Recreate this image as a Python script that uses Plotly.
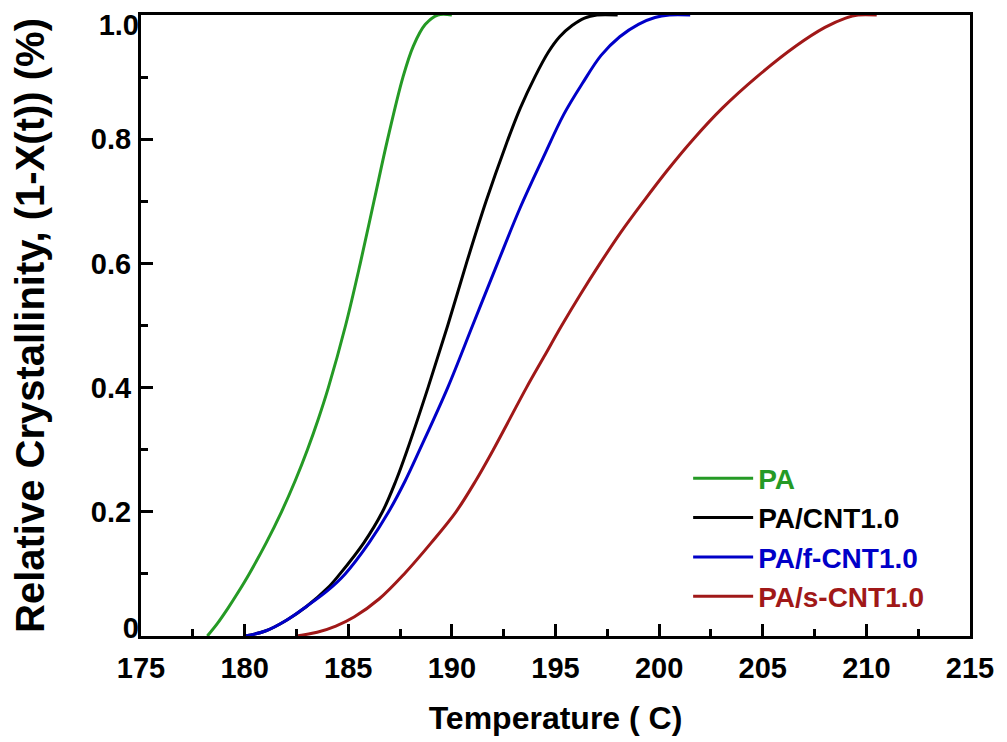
import plotly.graph_objects as go

# Temperature (C) and relative crystallinity values
pa_T = [178.2, 178.68, 179.2, 179.68, 180.22, 181.04, 181.78, 182.44, 183.03, 183.56, 184.04, 184.87, 185.58, 186.24, 186.9, 187.64, 188.14, 188.72, 189.32, 190.0]
pa_v = [0.0, 0.02, 0.045, 0.07, 0.10, 0.15, 0.20, 0.25, 0.30, 0.35, 0.40, 0.50, 0.60, 0.70, 0.80, 0.90, 0.95, 0.985, 1.0, 1.0]

cnt_T = [180.0, 181.0, 182.0, 183.0, 184.0, 184.6, 185.75, 186.65, 187.3, 187.85, 188.85, 189.8, 190.7, 191.65, 192.6, 193.3, 194.0, 194.65, 195.2, 195.8, 196.4, 197.0, 198.0]
cnt_v = [0.0, 0.008, 0.025, 0.048, 0.077, 0.10, 0.15, 0.20, 0.25, 0.30, 0.40, 0.50, 0.60, 0.70, 0.79, 0.85, 0.90, 0.94, 0.965, 0.983, 0.995, 1.0, 1.0]

fcnt_T = [180.0, 181.0, 182.0, 183.0, 184.0, 184.85, 186.0, 186.95, 187.75, 188.45, 189.8, 191.0, 192.2, 193.3, 194.4, 195.4, 196.3, 197.2, 198.1, 199.0, 199.8, 200.5, 201.5]
fcnt_v = [0.0, 0.008, 0.025, 0.048, 0.073, 0.10, 0.15, 0.20, 0.25, 0.30, 0.40, 0.50, 0.60, 0.69, 0.77, 0.84, 0.89, 0.935, 0.965, 0.985, 0.996, 1.0, 1.0]

scnt_T = [182.5, 183.5, 184.4, 185.3, 186.5, 187.7, 189.0, 190.2, 191.15, 192.0, 192.8, 193.6, 194.45, 195.3, 196.2, 197.15, 198.15, 199.25, 200.4, 201.65, 203.05, 204.7, 206.6, 208.0, 209.0, 209.6, 210.5]
scnt_v = [0.0, 0.006, 0.016, 0.031, 0.06, 0.10, 0.15, 0.20, 0.25, 0.30, 0.35, 0.40, 0.45, 0.50, 0.55, 0.60, 0.65, 0.70, 0.75, 0.80, 0.85, 0.90, 0.95, 0.98, 0.995, 1.0, 1.0]

names = ["PA", "PA/CNT1.0", "PA/f-CNT1.0", "PA/s-CNT1.0"]
colors = ["#259a25", "#000000", "#0000c8", "#a01818"]
series = [(pa_T, pa_v), (cnt_T, cnt_v), (fcnt_T, fcnt_v), (scnt_T, scnt_v)]

x_ticks = [175, 180, 185, 190, 195, 200, 205, 210, 215]
y_ticks = [0, 0.2, 0.4, 0.6, 0.8, 1.0]
y_ticktext = ["", "0.2", "0.4", "0.6", "0.8", ""]   # end labels drawn on helper axes
y_bottom_tick, y_bottom_text = [0], ["0"]
y_top_tick, y_top_text = [1.0], ["1.0"]

FONT = "Liberation Sans, Arial, sans-serif"
TICKFONT = dict(family=FONT, size=29, color="black", weight="bold")

fig = go.Figure()
for (T, v), name, col in zip(series, names, colors):
    fig.add_trace(go.Scatter(
        x=T, y=v, mode="lines",
        name=f'<span style="color:{col}"><b>{name}</b></span>',
        line=dict(color=col, width=3, shape="spline", smoothing=1.0),
    ))
# empty helper traces so the label-only axes are drawn
for ax in ("y2", "y3"):
    fig.add_trace(go.Scatter(x=[], y=[], yaxis=ax, showlegend=False, hoverinfo="skip"))

axis_common = dict(
    showline=True, linecolor="black", linewidth=3, mirror=True,
    ticks="inside", tickwidth=3, tickcolor="black", ticklen=12,
    showgrid=False, zeroline=False, automargin=False,
    ticklabeloverflow="allow", tickfont=TICKFONT,
)

fig.update_xaxes(
    range=[175, 215], tickvals=x_ticks,
    minor=dict(dtick=2.5, tick0=175, ticks="inside", ticklen=7, tickwidth=3, tickcolor="black", showgrid=False),
    title=dict(text="<b>Temperature ( C)</b>", font=dict(family=FONT, size=32, color="black"), standoff=24),
    ticklabelstandoff=4,
    **axis_common,
)
fig.update_yaxes(
    range=[0, 1.0], tickvals=y_ticks, ticktext=y_ticktext,
    minor=dict(dtick=0.1, tick0=0, ticks="inside", ticklen=7, tickwidth=3, tickcolor="black", showgrid=False),
    title=dict(text="<b>Relative Crystallinity, (1-X(t)) (%)</b>", font=dict(family=FONT, size=40, color="black"), standoff=36),
    ticklabelstandoff=1,
    **axis_common,
)

helper = dict(
    overlaying="y", side="left", anchor="x", range=[0, 1.0],
    showline=False, ticks="", showgrid=False, zeroline=False, automargin=False,
    ticklabeloverflow="allow", tickfont=TICKFONT, ticklabelstandoff=1,
)

# the page body adds an 8 px offset, so the figure is 8 px smaller and margins shifted
fig.update_layout(
    width=999, height=734,
    margin=dict(l=133, r=37, t=7, b=106),
    paper_bgcolor="white", plot_bgcolor="white",
    yaxis2=dict(tickvals=y_bottom_tick, ticktext=y_bottom_text, ticklabelshift=-8, **helper),
    yaxis3=dict(tickvals=y_top_tick, ticktext=y_top_text, ticklabelshift=10, **helper),
    showlegend=True,
    legend=dict(
        x=0.66, y=0.294, xanchor="left", yanchor="top",
        bgcolor="rgba(0,0,0,0)", borderwidth=0,
        font=dict(family=FONT, size=28, color="black"),
        tracegroupgap=0, itemwidth=60,
    ),
)

fig.write_html("out.html")
